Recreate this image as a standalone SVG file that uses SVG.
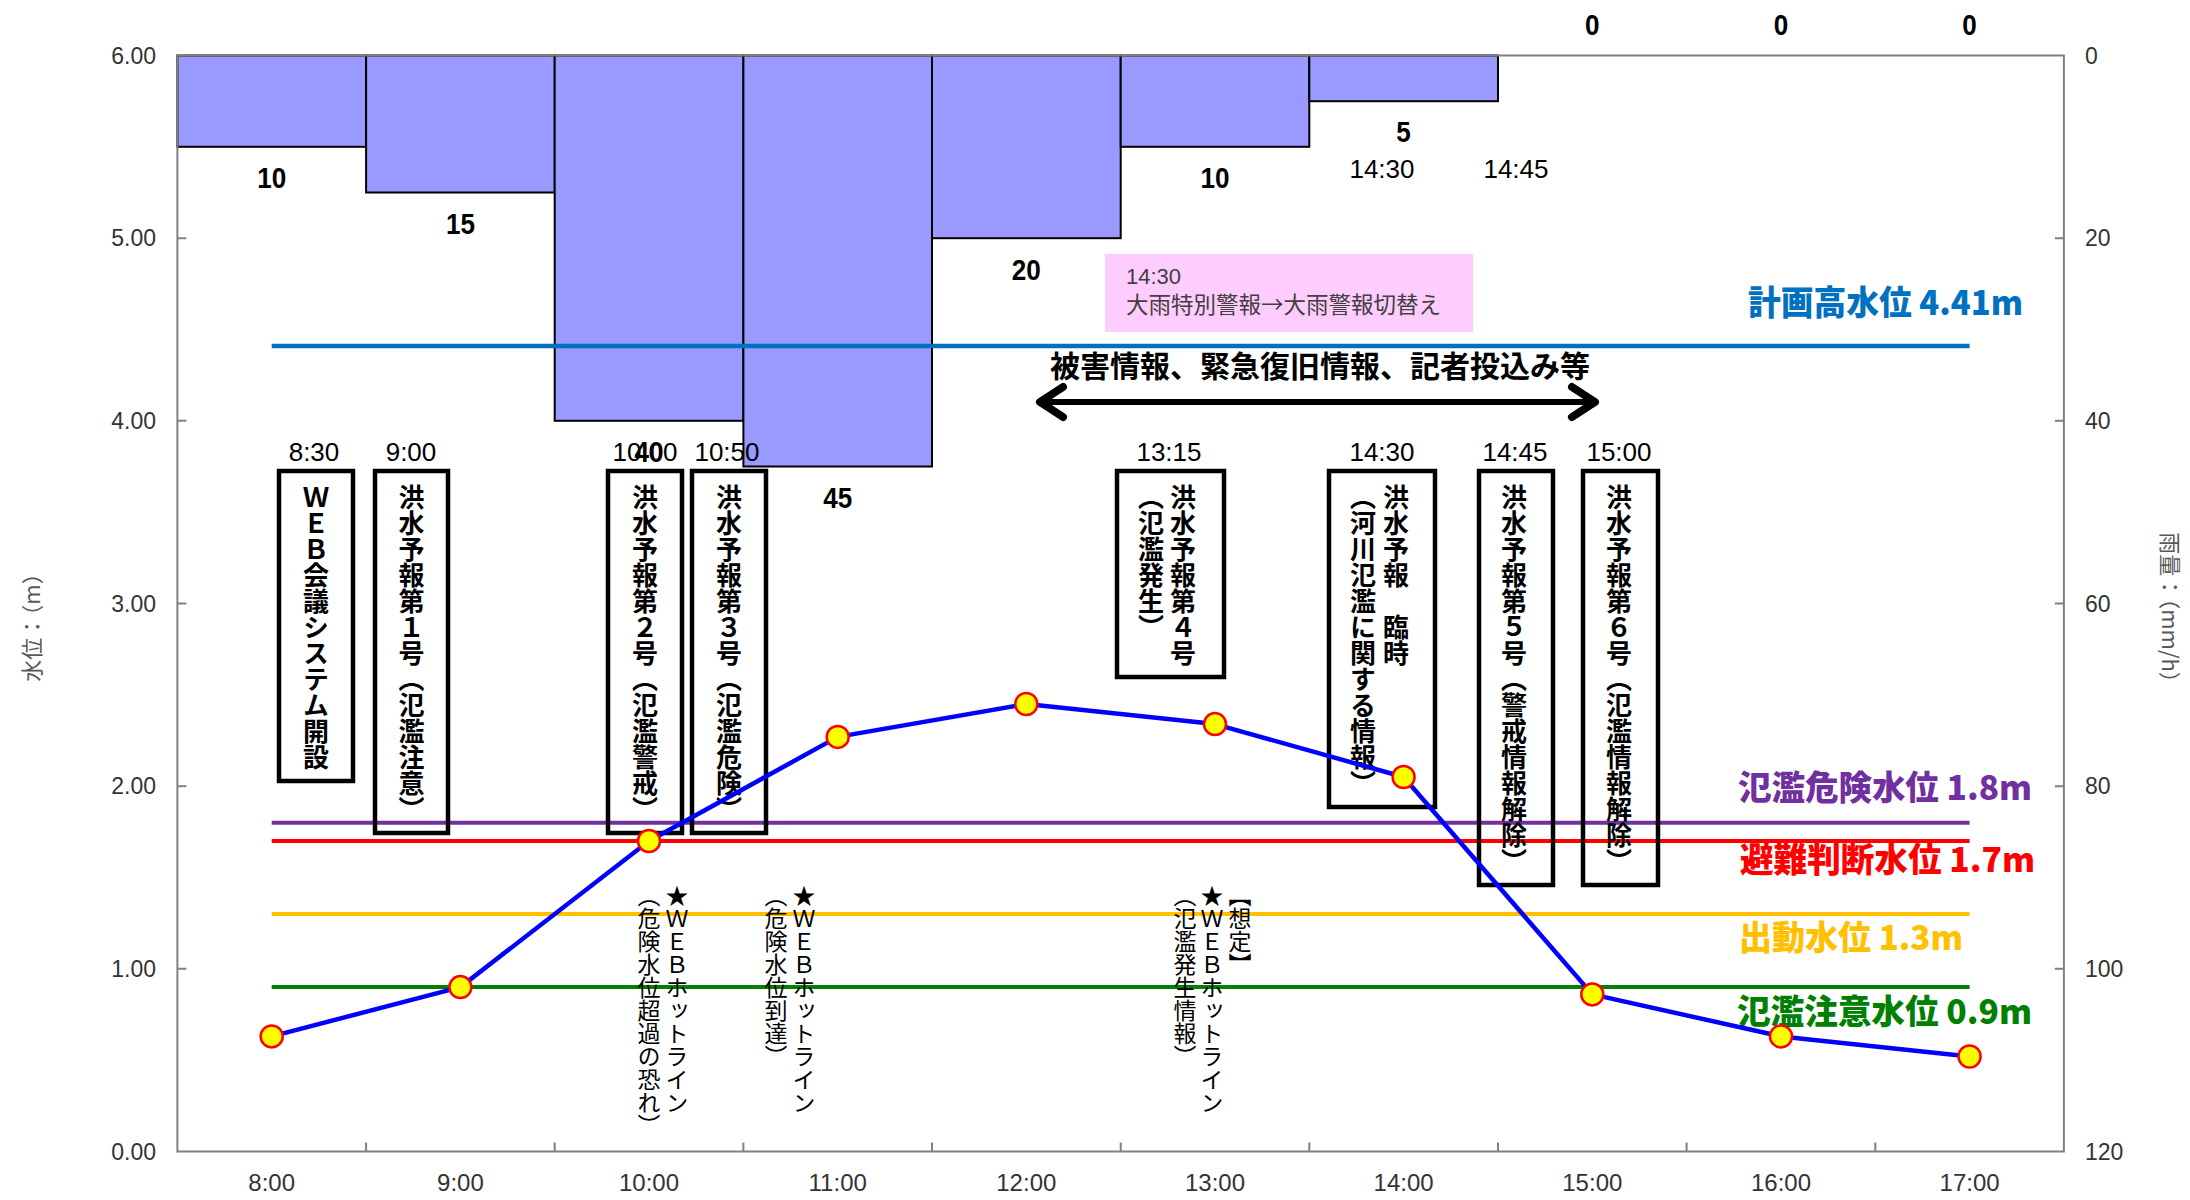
<svg xmlns="http://www.w3.org/2000/svg" width="2190" height="1200" viewBox="0 0 2190 1200">
<defs>
<style>
.ax{font-family:'Liberation Sans',Arial,sans-serif;font-size:23px;fill:#333}
.axt{font-family:'Noto Sans CJK JP','Noto Sans',sans-serif;font-size:22px;fill:#595959}
.rain{font-family:'Liberation Sans',Arial,sans-serif;font-weight:bold;font-size:30px;fill:#000;text-anchor:middle}
.tm{font-family:'Liberation Sans',Arial,sans-serif;font-size:26px;fill:#000;text-anchor:middle}
.vt{font-family:'Noto Sans CJK JP',sans-serif;font-size:26px;font-weight:bold;fill:#000;writing-mode:vertical-rl}
.vh{font-family:'Noto Sans CJK JP',sans-serif;font-size:23px;font-weight:normal;fill:#000;writing-mode:vertical-rl}
.lvl{font-family:'Noto Sans CJK JP',sans-serif;font-weight:900;font-size:34px}
.box{fill:none;stroke:#000;stroke-width:4.5}
.bar{fill:#9999FF;stroke:#000;stroke-width:2}
.mk{fill:#FFFF00;stroke:#FF0000;stroke-width:2.5}
.tick{stroke:#808080;stroke-width:2}
</style>
<marker id="chev" viewBox="-32 -20 36 40" refX="0" refY="0" markerWidth="36" markerHeight="40" markerUnits="userSpaceOnUse" orient="auto-start-reverse" overflow="visible">
<path d="M-23,-15 L0,0 L-23,15" fill="none" stroke="#000" stroke-width="8" stroke-linecap="round" stroke-linejoin="round"/>
</marker>
</defs>
<rect width="2190" height="1200" fill="#fff"/>

<g id="rain-bars">
<rect class="bar" x="177.4" y="55.5" width="188.7" height="91.3"/>
<rect class="bar" x="366.1" y="55.5" width="188.6" height="137"/>
<rect class="bar" x="554.7" y="55.5" width="188.7" height="365.3"/>
<rect class="bar" x="743.4" y="55.5" width="188.6" height="411"/>
<rect class="bar" x="932" y="55.5" width="188.7" height="182.7"/>
<rect class="bar" x="1120.7" y="55.5" width="188.6" height="91.3"/>
<rect class="bar" x="1309.3" y="55.5" width="188.7" height="45.7"/>
</g>

<g id="plot-frame">
<rect x="177.4" y="55.5" width="1886.5" height="1096" fill="none" stroke="#808080" stroke-width="2"/>
<path class="tick" d="M177.4,238.2h9M177.4,420.8h9M177.4,603.5h9M177.4,786.2h9M177.4,968.8h9M2063.9,238.2h-9M2063.9,420.8h-9M2063.9,603.5h-9M2063.9,786.2h-9M2063.9,968.8h-9M366.1,1151.5v-9M554.7,1151.5v-9M743.4,1151.5v-9M932,1151.5v-9M1120.7,1151.5v-9M1309.3,1151.5v-9M1498,1151.5v-9M1686.6,1151.5v-9M1875.3,1151.5v-9"/>
</g>

<g id="left-axis-labels" class="ax" text-anchor="end">
<text x="156" y="63.5">6.00</text>
<text x="156" y="246.2">5.00</text>
<text x="156" y="428.8">4.00</text>
<text x="156" y="611.5">3.00</text>
<text x="156" y="794.2">2.00</text>
<text x="156" y="976.8">1.00</text>
<text x="156" y="1159.5">0.00</text>
</g>
<g id="right-axis-labels" class="ax">
<text x="2085" y="63.5">0</text>
<text x="2085" y="246.2">20</text>
<text x="2085" y="428.8">40</text>
<text x="2085" y="611.5">60</text>
<text x="2085" y="794.2">80</text>
<text x="2085" y="976.8">100</text>
<text x="2085" y="1159.5">120</text>
</g>
<g id="x-axis-labels" class="ax" text-anchor="middle" style="font-size:24px">
<text x="271.7" y="1191">8:00</text>
<text x="460.4" y="1191">9:00</text>
<text x="649" y="1191">10:00</text>
<text x="837.7" y="1191">11:00</text>
<text x="1026.3" y="1191">12:00</text>
<text x="1215" y="1191">13:00</text>
<text x="1403.6" y="1191">14:00</text>
<text x="1592.3" y="1191">15:00</text>
<text x="1781" y="1191">16:00</text>
<text x="1969.6" y="1191">17:00</text>
</g>
<g id="axis-titles" class="axt" text-anchor="middle">
<text transform="translate(40,622) rotate(-90)">水位：（m）</text>
<text transform="translate(2162,613) rotate(90)">雨量：（mm/h）</text>
</g>

<g id="rain-labels">
<text class="rain" x="271.7" y="188" textLength="29" lengthAdjust="spacingAndGlyphs">10</text>
<text class="rain" x="460.4" y="234" textLength="29" lengthAdjust="spacingAndGlyphs">15</text>
<text class="rain" x="649" y="462" textLength="29" lengthAdjust="spacingAndGlyphs">40</text>
<text class="rain" x="837.7" y="508" textLength="29" lengthAdjust="spacingAndGlyphs">45</text>
<text class="rain" x="1026.3" y="280" textLength="29" lengthAdjust="spacingAndGlyphs">20</text>
<text class="rain" x="1215" y="188" textLength="29" lengthAdjust="spacingAndGlyphs">10</text>
<text class="rain" x="1403.6" y="142" textLength="14.5" lengthAdjust="spacingAndGlyphs">5</text>
<text class="rain" x="1592.3" y="35" textLength="14.5" lengthAdjust="spacingAndGlyphs">0</text>
<text class="rain" x="1781" y="35" textLength="14.5" lengthAdjust="spacingAndGlyphs">0</text>
<text class="rain" x="1969.6" y="35" textLength="14.5" lengthAdjust="spacingAndGlyphs">0</text>
</g>

<g id="top-time-labels">
<text class="tm" x="1382" y="178">14:30</text>
<text class="tm" x="1516" y="178">14:45</text>
</g>

<g id="note-heavy-rain">
<rect x="1105" y="254" width="368" height="78" fill="#FFCCFF"/>
<text x="1126" y="284" style="font-family:'Liberation Sans',Arial,sans-serif;font-size:22px;fill:#404040">14:30</text>
<text x="1126" y="313" style="font-family:'Noto Sans CJK JP',sans-serif;font-size:22.5px;fill:#404040">大雨特別警報→大雨警報切替え</text>
</g>

<g id="level-lines" fill="none">
<line x1="271.7" y1="345.9" x2="1969.6" y2="345.9" stroke="#0070C0" stroke-width="4.5"/>
<line x1="271.7" y1="822.7" x2="1969.6" y2="822.7" stroke="#7030A0" stroke-width="4"/>
<line x1="271.7" y1="841" x2="1969.6" y2="841" stroke="#FF0000" stroke-width="4"/>
<line x1="271.7" y1="914" x2="1969.6" y2="914" stroke="#FFC000" stroke-width="4"/>
<line x1="271.7" y1="987.1" x2="1969.6" y2="987.1" stroke="#008000" stroke-width="4"/>
</g>
<g id="level-labels" class="lvl">
<text x="1748" y="315" fill="#0070C0" textLength="275" lengthAdjust="spacingAndGlyphs">計画高水位 4.41m</text>
<text x="1738" y="800" fill="#7030A0" textLength="294" lengthAdjust="spacingAndGlyphs">氾濫危険水位 1.8m</text>
<text x="1740" y="872" fill="#FF0000" textLength="295" lengthAdjust="spacingAndGlyphs">避難判断水位 1.7m</text>
<text x="1739" y="950" fill="#FFC000" textLength="224" lengthAdjust="spacingAndGlyphs">出動水位 1.3m</text>
<text x="1737" y="1024" fill="#008000" textLength="295" lengthAdjust="spacingAndGlyphs">氾濫注意水位 0.9m</text>
</g>

<g id="connectors">
<line x1="1040" y1="402" x2="1595" y2="402" stroke="#000" stroke-width="6" marker-start="url(#chev)" marker-end="url(#chev)"/>
</g>
<g id="damage-info-label">
<text x="1320" y="377" text-anchor="middle" style="font-family:'Noto Sans CJK JP',sans-serif;font-size:30px;font-weight:bold">被害情報、緊急復旧情報、記者投込み等</text>
</g>

<g id="ev-0830">
<text class="tm" x="314" y="461">8:30</text>
<rect class="box" x="279" y="471" width="74" height="310"/>
<text class="vt" x="316" y="484">ＷＥＢ会議システム開設</text>
</g>
<g id="ev-0900">
<text class="tm" x="411" y="461">9:00</text>
<rect class="box" x="375" y="471" width="73" height="362"/>
<text class="vt" x="411.5" y="484">洪水予報第１号（氾濫注意）</text>
</g>
<g id="ev-1000">
<text class="tm" x="645" y="461">10:00</text>
<rect class="box" x="608" y="471" width="74" height="362"/>
<text class="vt" x="645" y="484">洪水予報第２号（氾濫警戒）</text>
</g>
<g id="ev-1050">
<text class="tm" x="727" y="461">10:50</text>
<rect class="box" x="692" y="471" width="74" height="362"/>
<text class="vt" x="729" y="484">洪水予報第３号（氾濫危険）</text>
</g>
<g id="ev-1315">
<text class="tm" x="1169" y="461">13:15</text>
<rect class="box" x="1117" y="471" width="107" height="206"/>
<text class="vt" x="1183" y="484">洪水予報第４号</text>
<text class="vt" x="1151" y="484">（氾濫発生）</text>
</g>
<g id="ev-1430">
<text class="tm" x="1382" y="461">14:30</text>
<rect class="box" x="1329" y="471" width="106" height="336"/>
<text class="vt" x="1396" y="484">洪水予報　臨時</text>
<text class="vt" x="1363" y="484">（河川氾濫に関する情報）</text>
</g>
<g id="ev-1445">
<text class="tm" x="1515" y="461">14:45</text>
<rect class="box" x="1479" y="471" width="74" height="414"/>
<text class="vt" x="1514" y="484">洪水予報第５号（警戒情報解除）</text>
</g>
<g id="ev-1500">
<text class="tm" x="1619" y="461">15:00</text>
<rect class="box" x="1583" y="471" width="75" height="414"/>
<text class="vt" x="1619" y="484">洪水予報第６号（氾濫情報解除）</text>
</g>

<g id="hotline-1">
<text class="vh" x="677" y="884">★ＷＥＢホットライン</text>
<text class="vh" x="649" y="884">（危険水位超過の恐れ）</text>
</g>
<g id="hotline-2">
<text class="vh" x="804" y="884">★ＷＥＢホットライン</text>
<text class="vh" x="776" y="884">（危険水位到達）</text>
</g>
<g id="hotline-3">
<text class="vh" x="1240" y="884">【想定】</text>
<text class="vh" x="1212" y="884">★ＷＥＢホットライン</text>
<text class="vh" x="1185" y="884">（氾濫発生情報）</text>
</g>

<g id="water-level">
<polyline fill="none" stroke="#0000FF" stroke-width="4.5" stroke-linejoin="round" points="271.7,1036.4 460.4,987.1 649,841 837.7,736.9 1026.3,704 1215,724.1 1403.6,777 1592.3,994.4 1781,1036.4 1969.6,1056.5"/>
<circle class="mk" cx="271.7" cy="1036.4" r="11"/>
<circle class="mk" cx="460.4" cy="987.1" r="11"/>
<circle class="mk" cx="649" cy="841" r="11"/>
<circle class="mk" cx="837.7" cy="736.9" r="11"/>
<circle class="mk" cx="1026.3" cy="704" r="11"/>
<circle class="mk" cx="1215" cy="724.1" r="11"/>
<circle class="mk" cx="1403.6" cy="777" r="11"/>
<circle class="mk" cx="1592.3" cy="994.4" r="11"/>
<circle class="mk" cx="1781" cy="1036.4" r="11"/>
<circle class="mk" cx="1969.6" cy="1056.5" r="11"/>
</g>
</svg>
